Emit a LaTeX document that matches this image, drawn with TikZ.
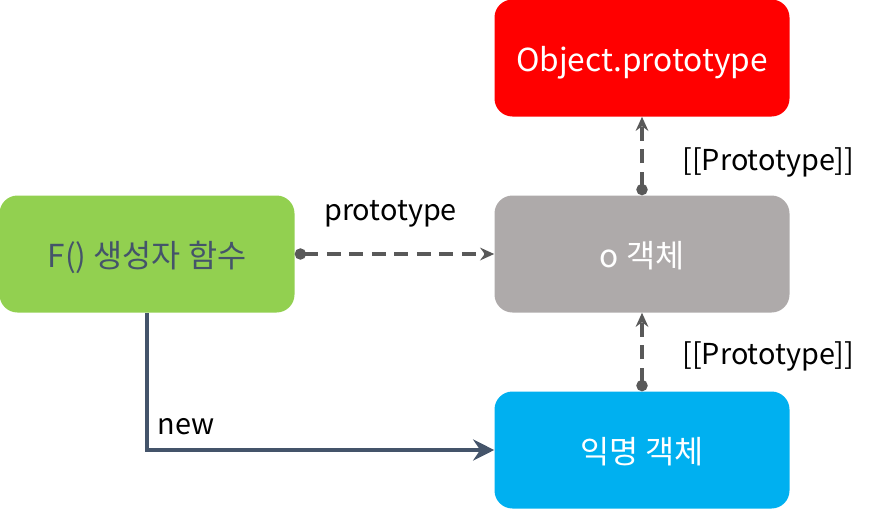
\documentclass[tikz,border=0pt]{standalone}
\usepackage{fontspec}
\setmainfont{Noto Sans CJK KR}
\usetikzlibrary{arrows.meta}

\definecolor{boxgreen}{HTML}{92D050}
\definecolor{boxred}{HTML}{FF0000}
\definecolor{boxgray}{HTML}{AEAAAA}
\definecolor{boxblue}{HTML}{00B0F0}
\definecolor{darkslate}{HTML}{44546A}
\definecolor{linkgray}{HTML}{595959}

\begin{document}
\begin{tikzpicture}[node distance=4.9cm]

\tikzset{
  objbox/.style={rectangle, rounded corners=0.45cm, draw=none, minimum width=7.375cm, minimum height=2.925cm, text height=21pt, text depth=2pt, font=\fontsize{22.5}{26}\selectfont, text=white},
  protolink/.style={draw=linkgray, line width=2.4pt, dash pattern=on 10pt off 6pt, {Circle[length=8pt]}-{Stealth[length=10pt, width=9pt]}},
  lbl/.style={font=\fontsize{20.5}{24}\selectfont, text=black}
}

\useasboundingbox (0,0) rectangle (21.8,-12.75);

% Constructor function
\node (fconst) [objbox, fill=boxgreen, text=darkslate] at (3.675,-6.35) {F() 생성자 함수};

% o object
\node (oobj) [objbox, fill=boxgray, right of=fconst, xshift=7.475cm] {o 객체};

% Object.prototype above o object
\node (objproto) [objbox, fill=boxred, above of=oobj] {Object.prototype};

% Anonymous object below o object
\node (anon) [objbox, fill=boxblue, below of=oobj] {익명 객체};

% Arrows
\draw[protolink] (fconst.east) -- (oobj.west) node (lblproto) [lbl, midway, above, yshift=0.5cm, xshift=-0.1cm] {prototype};
\draw[protolink] (oobj.north) -- (objproto.south) node (lblupper) [lbl, midway, right, xshift=0.85cm, yshift=-0.15cm] {[[Prototype]]};
\draw[protolink] (anon.north) -- (oobj.south) node (lbllower) [lbl, midway, right, xshift=0.85cm, yshift=-0.1cm] {[[Prototype]]};
\draw[-{Stealth[length=15pt, width=15pt, inset=5pt]}, draw=darkslate, line width=3pt] (fconst.south) |- (anon.west) node (lblnew) [lbl, pos=0.5, above right, xshift=0.1cm, yshift=0.2cm] {new};

\end{tikzpicture}
\end{document}
